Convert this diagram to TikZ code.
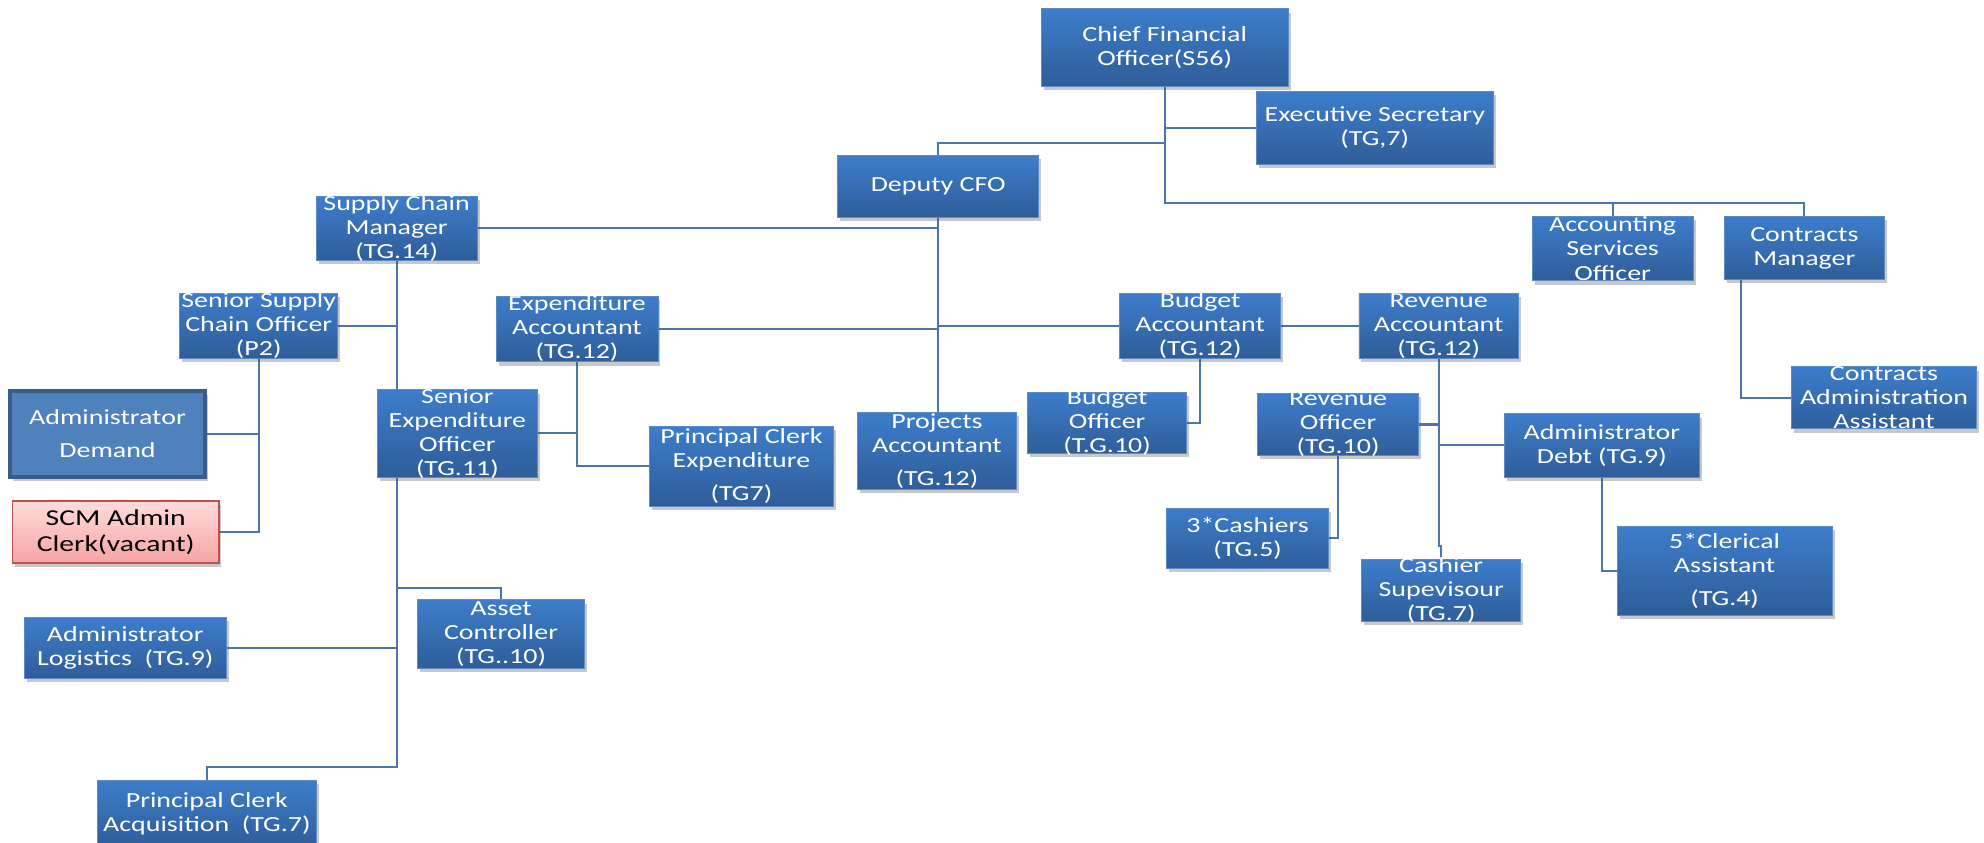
\documentclass[tikz,border=0pt]{standalone}
\usepackage{fontspec}
\setmainfont{Carlito}[FakeStretch=1.3]
\usetikzlibrary{shadows,backgrounds,calc}
\definecolor{boxtop}{HTML}{3D7DCB}
\definecolor{boxbot}{HTML}{2F5D99}
\definecolor{boxline}{HTML}{5A8BC8}
\definecolor{wire}{HTML}{4A76AC}
\definecolor{demandfill}{HTML}{4F81BD}
\definecolor{demandline}{HTML}{385D8A}
\definecolor{vacanttop}{HTML}{FFDCDC}
\definecolor{vacantbot}{HTML}{F7A3A3}
\definecolor{vacantline}{HTML}{C0504D}
\newcommand\postfont{\fontsize{17}{19}\selectfont}
\begin{document}
\begin{tikzpicture}[x=1pt,y=-1pt,
  post/.style 2 args={rectangle, minimum width=#1, minimum height=#2, inner sep=0pt,
    draw=boxline, line width=0.7pt, top color=boxtop, bottom color=boxbot,
    drop shadow={shadow xshift=2pt, shadow yshift=-3pt, opacity=0.3, fill=black!70}},
  demandbox/.style 2 args={rectangle, minimum width=#1, minimum height=#2, inner sep=0pt,
    draw=demandline, line width=2.6pt, fill=demandfill,
    drop shadow={shadow xshift=2pt, shadow yshift=-3pt, opacity=0.3, fill=black!70}},
  vacantbox/.style 2 args={rectangle, minimum width=#1, minimum height=#2, inner sep=0pt,
    draw=vacantline, line width=1.2pt, top color=vacanttop, bottom color=vacantbot,
    drop shadow={shadow xshift=2pt, shadow yshift=-3pt, opacity=0.3, fill=black!70}},
  txt/.style={align=center, text=white, font=\postfont, inner sep=0pt},
  darktxt/.style={align=center, text=black, font=\fontsize{18}{20}\selectfont, inner sep=0pt},
  wiring/.style={draw=wire, line width=1.7pt}]
\useasboundingbox (0,0) rectangle (1568,666);

% --- posts ---
\node[post={195pt}{61pt}, label={[txt]center:Chief Financial\\Officer(S56)}] (cfo) at (920.5,37.5) {};
\node[post={187pt}{58pt}, label={[txt]center:Executive Secretary\\(TG,7)}] (es) at (1086.5,101) {};
\node[post={159pt}{49pt}, label={[txt]center:Deputy CFO}] (dep) at (741.5,147.5) {};
\node[post={127pt}{51pt}, label={[txt]center:Supply Chain\\Manager\\(TG.14)}] (scm) at (313.5,180.5) {};
\node[post={127pt}{51pt}, label={[txt]center:Accounting\\Services\\Officer}] (aso) at (1274.5,196.5) {};
\node[post={126pt}{50pt}, label={[txt]center:Contracts\\Manager}] (cm) at (1426,196) {};
\node[post={125pt}{51pt}, label={[txt]center:Senior Supply\\Chain Officer\\(P2)}] (sso) at (204.5,257.5) {};
\node[post={128pt}{52pt}, label={[txt]center:Expenditure\\Accountant\\(TG.12)}] (ea) at (456,260) {};
\node[post={127pt}{51pt}, label={[txt]center:Budget\\Accountant\\(TG.12)}] (ba) at (948.5,257.5) {};
\node[post={126pt}{51pt}, label={[txt]center:Revenue\\Accountant\\(TG.12)}] (ra) at (1137,257.5) {};
\node[post={146pt}{49pt}, label={[txt]center:Contracts\\Administration\\Assistant}] (caa) at (1489,314.5) {};
\node[demandbox={154pt}{68pt}, label={[txt]center:Administrator\\[7pt]Demand}] (dem) at (85,343) {};
\node[post={127pt}{69pt}, label={[txt]center:Senior\\Expenditure\\Officer\\(TG.11)}] (seo) at (361.5,342.5) {};
\node[post={146pt}{63pt}, label={[txt]center:Principal Clerk\\Expenditure\\[7pt](TG7)}] (pce) at (586,368.5) {};
\node[post={125pt}{61pt}, label={[txt]center:Projects\\Accountant\\[7pt](TG.12)}] (pa) at (740.5,356.5) {};
\node[post={126pt}{48pt}, label={[txt]center:Budget\\Officer\\(T.G.10)}] (bo) at (875,334) {};
\node[post={127pt}{49pt}, label={[txt]center:Revenue\\Officer\\(TG.10)}] (ro) at (1057.5,335.5) {};
\node[post={154pt}{50pt}, label={[txt]center:Administrator\\Debt (TG.9)}] (adb) at (1266,352) {};
\node[vacantbox={163pt}{49pt}, label={[darktxt]center:SCM Admin\\Clerk(vacant)}] (clerk) at (91.5,420.5) {};
\node[post={128pt}{47pt}, label={[txt]center:3*Cashiers\\(TG.5)}] (cash) at (986,425.5) {};
\node[post={170pt}{70pt}, label={[txt]center:5*Clerical\\Assistant\\[7pt](TG.4)}] (cler) at (1363,451) {};
\node[post={126pt}{49pt}, label={[txt]center:Cashier\\Supevisour\\(TG.7)}] (cs) at (1139,466.5) {};
\node[post={160pt}{48pt}, label={[txt]center:Administrator\\Logistics~~(TG.9)}] (al) at (99,512) {};
\node[post={132pt}{54pt}, label={[txt]center:Asset\\Controller\\(TG..10)}] (ac) at (396,501) {};
\node[post={173pt}{52pt}, label={[txt]center:Principal Clerk\\Acquisition~~(TG.7)}] (pca) at (163.5,643) {};

% --- reporting lines, kept behind the posts ---
\begin{scope}[on background layer]
  \fill[white] (0,0) rectangle (1568,666);
  \begin{scope}[wiring]
  % CFO
  \draw (cfo.south) -- ++(0,92) -| (cm.north);
  \draw (aso.north) -- ++(0,-11);
  \draw (es.west) -- (es.west -| cfo.south);
  \draw (dep.north) |- ($(cfo.south)+(0,45)$);
  % Deputy CFO
  \draw (dep.south) -- (dep.south |- pa.north);
  \draw (scm.east) -- (scm.east -| dep.south);
  \draw (ea.east) -- (ea.east -| dep.south);
  \draw (ba.west) -- (ba.west -| dep.south);
  \draw (ba.east) -- (ra.west);
  \draw (ba.south) |- (bo.east);
  % Revenue
  \draw (ra.south) -- ++(0,148) -| (cs.north);
  \draw (ro.east) -- (ro.east -| ra.south);
  \draw (adb.west) -- (adb.west -| ra.south);
  \draw (ro.south) |- (cash.east);
  \draw (adb.south) |- (cler.west);
  % Contracts
  \draw ($(cm.south west)+(13,0)$) |- (caa.west);
  % Supply chain
  \draw (scm.south) -- ++(0,400) -| (pca.north);
  \draw (sso.east) -- (sso.east -| scm.south);
  \draw (al.east) -- (al.east -| scm.south);
  \draw (ac.north) -- ++(0,-9) -| (scm.south);
  \draw (sso.south) |- (clerk.east);
  \draw (dem.east) -- (dem.east -| sso.south);
  % Expenditure
  \draw (ea.south) |- (pce.west);
  \draw (seo.east) -- (seo.east -| ea.south);
  \end{scope}
\end{scope}
\end{tikzpicture}
\end{document}
